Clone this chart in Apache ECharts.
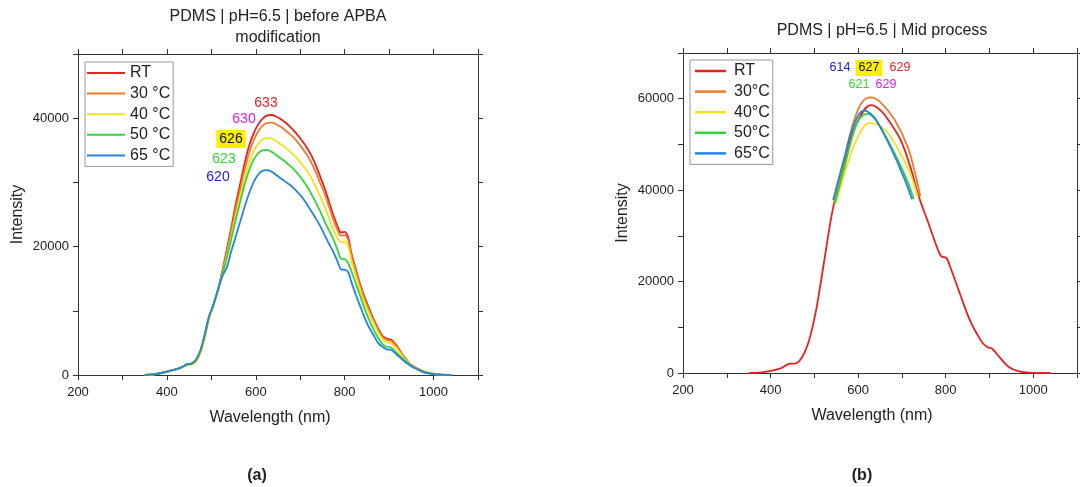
<!DOCTYPE html>
<html>
<head>
<meta charset="utf-8">
<script src="https://cdn.jsdelivr.net/npm/echarts@6/dist/echarts.min.js"></script>
<style>
html,body{margin:0;padding:0;background:#fff;}
#c{width:1080px;height:487px;}
</style>
</head>
<body>
<div id="c"></div>
<script>
// ---------- Panel (a): before APBA modification ----------
const wlA = [350,370,390,410,430,445,455,465,475,485,495,505,515,525,535,545,555,565,575,585,595,605,615,625,635,645,655,665,675,685,695,705,715,725,735,745,755,765,775,785,792,800,808,815,825,835,845,855,865,875,885,895,905,915,925,935,945,955,965,975,985,995,1005,1020,1040];
const rtA = [0,100,350,700,1100, 1650,1750,2300,3700,6200, 9100,11000,13300,16300,19600, 23000,26600,29800,33000,35700, 37600,39000,39900,40400,40500, 40300,39900,39400,38800,38100, 37300,36400,35400,34200,32700, 30900,29100,26900,24800,23000, 22200,22300,21400,19000,16500, 14100,12100,10400,8700,7300, 6100,5650,5500,4770,3700, 2700,1900,1350,950,650, 400,250,130,40,0];
const t30A = [0,100,350,700,1100, 1650,1750,2300,3700,6200, 9100,11000,13300,16100,19200, 22500,25900,29000,32000,34600, 36500,37900,38800,39250,39300, 39100,38700,38200,37600,37000, 36200,35300,34300,33100,31600, 29900,28200,26200,24100,22400, 21700,21800,21000,18700,16200, 13800,11800,10100,8500,7100, 5900,5450,5300,4600,3600, 2600,1850,1300,900,600, 380,230,120,35,0];
const t40A = [0,80,300,650,1000, 1500,1600,2000,3200,5600, 8700,10800,13100,15700,18600, 21600,24800,27800,30600,33000, 34800,36000,36700,36900,36850, 36500,36000,35500,34900,34300, 33600,32700,31800,30700,29300, 27800,26200,24400,22600,21200, 20700,20800,20000,17900,15500, 13200,11200,9600,8100,6700, 5600,5100,4950,4300,3400, 2500,1800,1250,880,580, 360,220,110,30,0];
const t50A = [0,100,350,700,1100, 1650,1750,2300,3700,6200, 9100,11000,13300,15700,18300, 21200,24200,27000,29700,31900, 33500,34500,35000,35050,34800, 34300,33800,33300,32700,32100, 31300,30400,29400,28200,26900, 25500,23900,22500,21100,19300, 18100,18050,17400,16200,14300, 12300,10300,8600,7100,5800, 4800,4400,4250,3600,2900, 2250,1700,1200,850,520, 320,190,90,25,0];
const t65A = [0,100,350,700,1100, 1650,1750,2300,3700,6200, 9100,11000,13300,15400,16800, 19300,21600,23900,26200,28300, 30000,31200,31800,31900,31700, 31200,30700,30200,29700,29100, 28400,27600,26600,25500,24400, 23200,21800,20400,19100,17500, 16450,16400,16000,14500,12500, 10700,8900,7400,6200,5000, 4400,4000,3900,3300,2700, 2100,1600,1150,850,500, 300,180,80,20,0];
const namesA = ['RT','30 °C','40 °C','50 °C','65 °C'];
const peaksA = ['633','630','626','623','620'];

// ---------- Panel (b): mid process ----------
const wlB_RT = [350,380,400,425,445,456,471,486,501,512,524,535,545,561,584,606,629,652,675,697,719,738,761,783,792,800,810,832,855,870,885,897,905,922,945,968,990,1010,1040];
const rtB = [0,150,450,1100,2050,2050,3300,6500,12300,18200,25400,32000,37100,42900,51600,56300,58600,57400,54500,51000,45200,38800,32700,26800,25400,25300,23300,17500,11600,8800,6500,5600,5400,3600,1250,350,100,30,0];
const wlB30 = [545,561,584,606,628,650,682,712,730,742];
const t30B = [37100,43500,53000,58800,60300,59300,55600,49800,43800,38600];
const wlB40 = [549,576,603,627,659,689,719,736];
const t40B = [37100,45800,52300,54700,53400,49400,43600,38500];
const wlB50 = [547,569,591,605,621,635,651,682,712,727];
const t50B = [37200,45100,53000,55800,56700,56000,53800,48300,42100,38000];
const wlB65 = [543,569,591,614,630,644,674,704,723];
const t65B = [37800,47240,54500,57400,56600,54900,49400,42900,38000];
const namesB = ['RT','30°C','40°C','50°C','65°C'];
const peaksB = ['629','629','627','621','614'];

// ---------- Tick labels ----------
const xTickLabels = [200,400,600,800,1000];
const yTickLabelsA = [0,20000,40000];
const yTickLabelsB = [0,20000,40000,60000];

const colors = ['#e8201e','#f07b2a','#f2e21c','#33d43a','#2584e0'];
const FONT = "'Liberation Sans', Arial, sans-serif";

function pairs(xs, ys){ return xs.map((x,i)=>[x, ys[i]]); }

const chart = echarts.init(document.getElementById('c'), null, {renderer:'canvas'});

function xAxisDef(grid, pos, withName, nameShift){
  return {
    gridIndex: grid, type:'value', min:200, max:1100, interval:100, position:pos,
    axisLine:{show:true, onZero:false, lineStyle:{color:'#333', width:1}},
    axisTick:{show:true, inside:false, length:5, lineStyle:{color:'#333'}},
    axisLabel:{show: withName, formatter: v => xTickLabels.includes(v) ? String(v) : '', fontSize:13, color:'#222', margin:11, fontFamily:FONT},
    splitLine:{show:false},
    name: withName ? 'Wavelength (nm)' : '',
    nameLocation:'middle', nameGap:35,
    nameTextStyle:{fontSize:16, color:'#222', fontFamily:FONT, padding:[0, nameShift, 0, 0]}
  };
}
function yAxisDef(grid, pos, withName, max, labels){
  return {
    gridIndex: grid, type:'value', min:0, max:max, interval:10000, position:pos,
    axisLine:{show:true, onZero:false, lineStyle:{color:'#333', width:1}},
    axisTick:{show:true, inside:false, length:5, lineStyle:{color:'#333'}},
    axisLabel:{show: withName, formatter: v => labels.includes(v) ? String(v) : '', fontSize:13, color:'#222', margin:9, fontFamily:FONT},
    splitLine:{show:false},
    name: withName ? 'Intensity' : '',
    nameLocation:'middle', nameGap:52,
    nameTextStyle:{fontSize:16, color:'#222', fontFamily:FONT}
  };
}

const seriesA = [rtA,t30A,t40A,t50A,t65A].map((ys,i)=>({
  name: namesA[i], type:'line', xAxisIndex:0, yAxisIndex:0,
  data: pairs(wlA, ys), smooth:0.35, symbol:'none', showSymbol:false,
  lineStyle:{color:colors[i], width:1.8}, itemStyle:{color:colors[i]}, z:2+i
}));
const bXs = [wlB_RT, wlB30, wlB40, wlB50, wlB65];
const seriesB = [rtB,t30B,t40B,t50B,t65B].map((ys,i)=>({
  name: namesB[i], type:'line', xAxisIndex:2, yAxisIndex:2,
  data: pairs(bXs[i], ys), smooth:0.4, symbol:'none', showSymbol:false,
  lineStyle:{color:colors[i], width:1.8}, itemStyle:{color:colors[i]}, z:2+i
}));

function txt(text, x, y, opts){
  return {type:'text', x:x, y:y, silent:true, z:100, style:Object.assign({
    text:text, fill:'#222', font:'16px '+FONT, align:'center', verticalAlign:'middle'
  }, opts||{})};
}
const annoFontA = '14px '+FONT;
const annoFontB = '12.5px '+FONT;

const option = {
  backgroundColor:'#fff',
  animation:false,
  textStyle:{fontFamily:FONT},
  grid:[
    {left:78, top:54, width:400, height:321},
    {left:683, top:53, width:399, height:320}
  ],
  xAxis:[
    xAxisDef(0,'bottom',true,16), xAxisDef(0,'top',false,0),
    xAxisDef(1,'bottom',true,16), xAxisDef(1,'top',false,0)
  ],
  yAxis:[
    yAxisDef(0,'left',true,50000,yTickLabelsA), yAxisDef(0,'right',false,50000,yTickLabelsA),
    yAxisDef(1,'left',true,70000,yTickLabelsB), yAxisDef(1,'right',false,70000,yTickLabelsB)
  ],
  legend:[
    {data:namesA, orient:'vertical', left:85, top:62, icon:'rect', itemWidth:38, itemHeight:2, itemGap:4.6,
     padding:[3,3,3,2], borderColor:'#999', borderWidth:1, backgroundColor:'#fff',
     textStyle:{fontSize:16, color:'#222', fontFamily:FONT}, selectedMode:false},
    {data:namesB, orient:'vertical', left:690, top:60, icon:'rect', itemWidth:31, itemHeight:2.5, itemGap:4.6,
     padding:[3,3,3,5], borderColor:'#999', borderWidth:1, backgroundColor:'#fff',
     textStyle:{fontSize:16, color:'#222', fontFamily:FONT, padding:[0,0,0,3]}, selectedMode:false}
  ],
  series: seriesA.concat(seriesB),
  graphic:[
    txt('PDMS | pH=6.5 | before APBA', 278, 17),
    txt('modification', 278, 38),
    txt('PDMS | pH=6.5 | Mid process', 882, 31),
    txt('(a)', 257, 476, {font:'bold 16px '+FONT}),
    txt('(b)', 862, 476, {font:'bold 16px '+FONT}),
    // peak annotations (a)
    txt(peaksA[0], 266, 103, {font:annoFontA, fill:'#e8202a'}),
    txt(peaksA[1], 244, 119, {font:annoFontA, fill:'#e020e0'}),
    txt(peaksA[2], 231, 139, {font:annoFontA, fill:'#111', backgroundColor:'#f8f000', padding:[2,3,2,3]}),
    txt(peaksA[3], 224, 159, {font:annoFontA, fill:'#30d830'}),
    txt(peaksA[4], 218, 177, {font:annoFontA, fill:'#2222cc'}),
    // peak annotations (b)
    txt(peaksB[4], 840, 67.5, {font:annoFontB, fill:'#2222cc'}),
    txt(peaksB[2], 869, 68, {font:annoFontB, fill:'#111', backgroundColor:'#f8f000', padding:[2,3,1,3]}),
    txt(peaksB[0], 900, 68, {font:annoFontB, fill:'#e8202a'}),
    txt(peaksB[3], 859, 84.5, {font:annoFontB, fill:'#30d830'}),
    txt(peaksB[1], 886, 84.5, {font:annoFontB, fill:'#e020e0'})
  ]
};
chart.setOption(option);
</script>
</body>
</html>
